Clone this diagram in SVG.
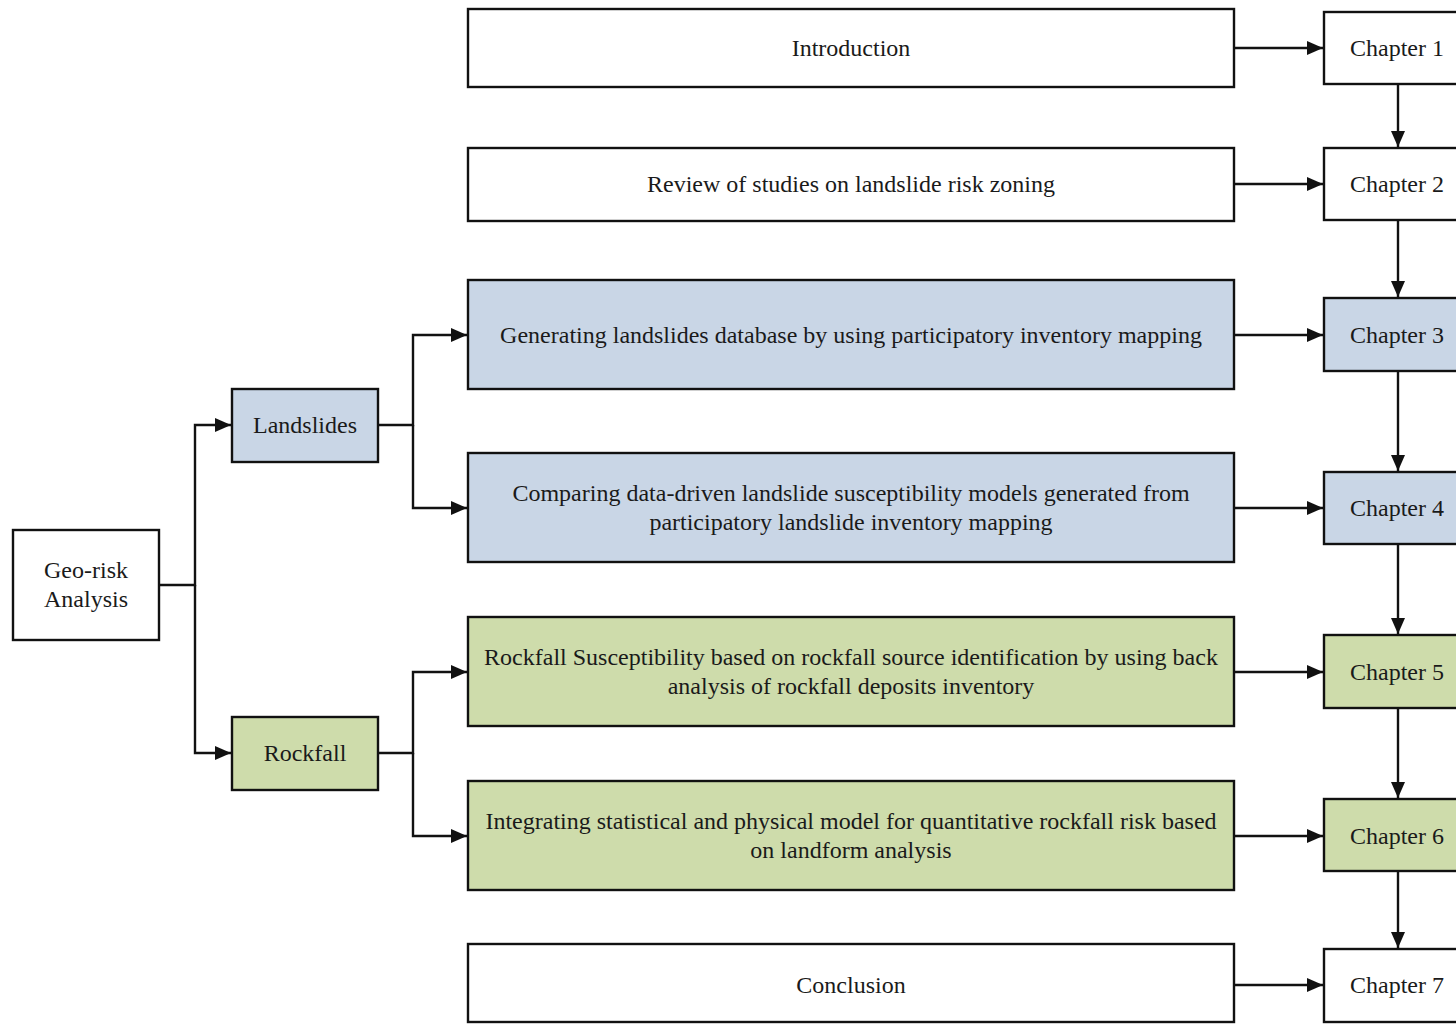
<svg xmlns="http://www.w3.org/2000/svg" width="1456" height="1024" viewBox="0 0 1456 1024">
<style>
text{font-family:"Liberation Serif","Times New Roman",serif;font-size:24px;fill:#1a1a1a;text-anchor:middle}
.b{stroke:#111;stroke-width:2.4}
.w{fill:#fff}
.bl{fill:#c9d6e6}
.gr{fill:#cedcab}
.c{fill:none;stroke:#111;stroke-width:2.4}
</style>
<defs>
<marker id="a" markerWidth="16" markerHeight="14" refX="16" refY="7" orient="auto" markerUnits="userSpaceOnUse">
<path d="M0,0 L16,7 L0,14 Z" fill="#111"/>
</marker>
</defs>
<rect width="1456" height="1024" fill="#fff"/>
<g id="connectors">
<path class="c" d="M159,585 H195 V425 H231" marker-end="url(#a)"/>
<path class="c" d="M195,585 V753 H231" marker-end="url(#a)"/>
<path class="c" d="M378,425 H413 V335 H467" marker-end="url(#a)"/>
<path class="c" d="M413,425 V508 H467" marker-end="url(#a)"/>
<path class="c" d="M378,753 H413 V672 H467" marker-end="url(#a)"/>
<path class="c" d="M413,753 V836 H467" marker-end="url(#a)"/>
<path class="c" d="M1234,48 H1323" marker-end="url(#a)"/>
<path class="c" d="M1234,184 H1323" marker-end="url(#a)"/>
<path class="c" d="M1234,335 H1323" marker-end="url(#a)"/>
<path class="c" d="M1234,508 H1323" marker-end="url(#a)"/>
<path class="c" d="M1234,672 H1323" marker-end="url(#a)"/>
<path class="c" d="M1234,836 H1323" marker-end="url(#a)"/>
<path class="c" d="M1234,985 H1323" marker-end="url(#a)"/>
<path class="c" d="M1398,84 V147" marker-end="url(#a)"/>
<path class="c" d="M1398,220 V297" marker-end="url(#a)"/>
<path class="c" d="M1398,371 V471" marker-end="url(#a)"/>
<path class="c" d="M1398,544 V634" marker-end="url(#a)"/>
<path class="c" d="M1398,708 V798" marker-end="url(#a)"/>
<path class="c" d="M1398,871 V948" marker-end="url(#a)"/>
</g>
<g id="georisk"><rect class="b w" x="13" y="530" width="146" height="110"/><text x="86" y="578">Geo-risk</text><text x="86" y="607">Analysis</text></g>
<g id="landslides"><rect class="b bl" x="232" y="389" width="146" height="73"/><text x="305" y="433">Landslides</text></g>
<g id="rockfall"><rect class="b gr" x="232" y="717" width="146" height="73"/><text x="305" y="761">Rockfall</text></g>
<g id="intro"><rect class="b w" x="468" y="9" width="766" height="78"/><text x="851" y="56">Introduction</text></g>
<g id="review"><rect class="b w" x="468" y="148" width="766" height="73"/><text x="851" y="192">Review of studies on landslide risk zoning</text></g>
<g id="generating"><rect class="b bl" x="468" y="280" width="766" height="109"/><text x="851" y="343">Generating landslides database by using participatory inventory mapping</text></g>
<g id="comparing"><rect class="b bl" x="468" y="453" width="766" height="109"/><text x="851" y="501">Comparing data-driven landslide susceptibility models generated from</text><text x="851" y="530">participatory landslide inventory mapping</text></g>
<g id="rockfallsusc"><rect class="b gr" x="468" y="617" width="766" height="109"/><text x="851" y="665">Rockfall Susceptibility based on rockfall source identification by using back</text><text x="851" y="694">analysis of rockfall deposits inventory</text></g>
<g id="integrating"><rect class="b gr" x="468" y="781" width="766" height="109"/><text x="851" y="829">Integrating statistical and physical model for quantitative rockfall risk based</text><text x="851" y="858">on landform analysis</text></g>
<g id="conclusion"><rect class="b w" x="468" y="944" width="766" height="78"/><text x="851" y="993">Conclusion</text></g>
<g id="ch1"><rect class="b w" x="1324" y="12" width="150" height="72"/><text x="1397" y="56">Chapter 1</text></g>
<g id="ch2"><rect class="b w" x="1324" y="148" width="150" height="72"/><text x="1397" y="192">Chapter 2</text></g>
<g id="ch3"><rect class="b bl" x="1324" y="298" width="150" height="73"/><text x="1397" y="343">Chapter 3</text></g>
<g id="ch4"><rect class="b bl" x="1324" y="472" width="150" height="72"/><text x="1397" y="516">Chapter 4</text></g>
<g id="ch5"><rect class="b gr" x="1324" y="635" width="150" height="73"/><text x="1397" y="680">Chapter 5</text></g>
<g id="ch6"><rect class="b gr" x="1324" y="799" width="150" height="72"/><text x="1397" y="844">Chapter 6</text></g>
<g id="ch7"><rect class="b w" x="1324" y="949" width="150" height="73"/><text x="1397" y="993">Chapter 7</text></g>
</svg>
